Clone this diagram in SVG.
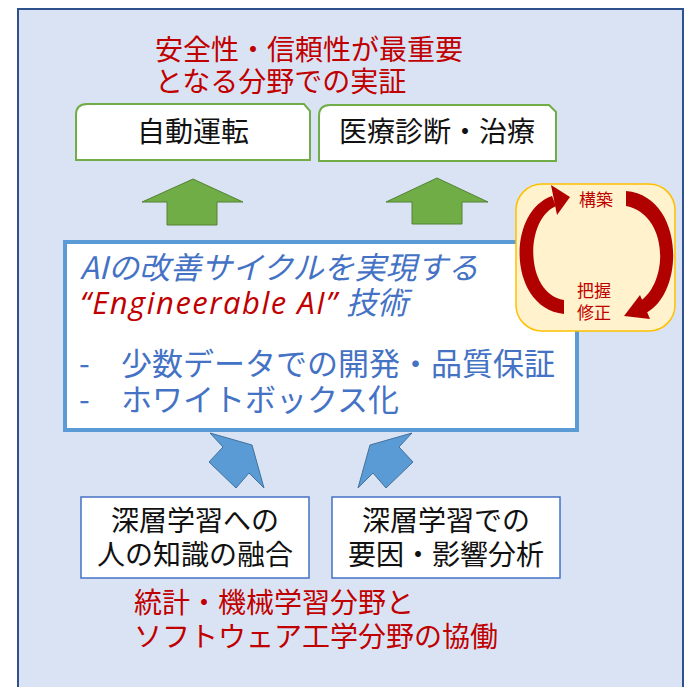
<svg xmlns="http://www.w3.org/2000/svg" width="687" height="687" viewBox="0 0 687 687">
<style>
.jp{font-family:"Noto Sans CJK JP","Noto Sans",sans-serif;}
.red{fill:#C00000;}
.blk{fill:#111;}
.blu{fill:#4472C4;}
.it{font-style:italic;}
.tbox{fill:#fff;stroke:#70AD47;stroke-width:2;}
.bbox{fill:#fff;stroke:#4472C4;stroke-width:1.5;}
.garrow{fill:#70AD47;stroke:#548235;stroke-width:1;}
.barrow{fill:#5B9BD5;stroke:#41719C;stroke-width:1;}
.carrow{fill:#B00000;}
</style>
<rect x="18" y="9" width="665" height="700" fill="#DAE3F3" stroke="#2F528F" stroke-width="2"/>

<g id="title-top">
<text class="jp red" font-size="28"><tspan x="155" y="60">安全性・信頼性が最重要</tspan><tspan x="155" y="92">となる分野での実証</tspan></text>
</g>

<g id="node-autodrive">
<path class="tbox" d="M76,160 L76,115 Q76,104 87,104 L304,104 L310,111 L310,160 Z"/>
<text class="jp blk" font-size="28" x="193" y="142" text-anchor="middle">自動運転</text>
</g>

<g id="node-medical">
<path class="tbox" d="M319,161 L319,116 Q319,105 330,105 L549,105 L556,112 L556,161 Z"/>
<text class="jp blk" font-size="28" x="437" y="142" text-anchor="middle">医療診断・治療</text>
</g>

<g id="node-main">
<rect x="65" y="242" width="512" height="188" fill="#fff" stroke="#5B9BD5" stroke-width="4"/>
<text class="jp blu" font-size="31"><tspan class="it" x="80" y="279">AIの改善サイクルを実現する</tspan><tspan class="red it" x="80" y="314" font-family="'Open Sans','Noto Sans',sans-serif" letter-spacing="1.5">“Engineerable AI”</tspan><tspan class="it" x="346" y="314">技術</tspan><tspan x="79" y="375">-</tspan><tspan x="121" y="375">少数データでの開発・品質保証</tspan><tspan x="79" y="411">-</tspan><tspan x="121" y="411">ホワイトボックス化</tspan></text>
</g>

<g id="node-cycle">
<rect x="516" y="184" width="159" height="147" rx="26" ry="26" fill="#FFF2CC" stroke="#FFC000" stroke-width="1.5"/>
<text class="jp red" font-size="17" x="596" y="206" text-anchor="middle">構築</text>
<text class="jp red" font-size="17" text-anchor="middle"><tspan x="594" y="297">把握</tspan><tspan x="594" y="319">修正</tspan></text>
<path class="carrow" d="M564,314 C508,308 506,212 552,196 L556,206 C524,220 525,294 564,300 Z"/>
<polygon class="carrow" points="570,197 551,185 557,215"/>
<path class="carrow" d="M626,191 C684,196 686,292 646,313 L639,302 C670,282 668,214 626,206 Z"/>
<polygon class="carrow" points="624,316 640,295 650,319"/>
</g>

<g id="node-fusion">
<rect class="bbox" x="81" y="497" width="228" height="81"/>
<text class="jp blk" font-size="28" text-anchor="middle"><tspan x="195" y="531">深層学習への</tspan><tspan x="195" y="565">人の知識の融合</tspan></text>
</g>

<g id="node-analysis">
<rect class="bbox" x="332" y="497" width="228" height="81"/>
<text class="jp blk" font-size="28" text-anchor="middle"><tspan x="446" y="531">深層学習での</tspan><tspan x="446" y="565">要因・影響分析</tspan></text>
</g>

<g id="title-bottom">
<text class="jp red" font-size="28"><tspan x="134" y="613">統計・機械学習分野と</tspan><tspan x="134" y="647">ソフトウェア工学分野の協働</tspan></text>
</g>

<g id="connectors">
<polygon class="garrow" points="193,179 243,202 217,202 217,225 167,225 167,202 142,202"/>
<polygon class="garrow" points="437,178 488,202 462,202 462,224 412,224 412,202 386,202"/>
<polygon class="barrow" points="210,433 252,445 264,488 249,473 236,488 209,462 223,447"/>
<polygon class="barrow" points="412,433 370,445 358,488 373,473 386,488 413,462 399,447"/>
</g>
</svg>
